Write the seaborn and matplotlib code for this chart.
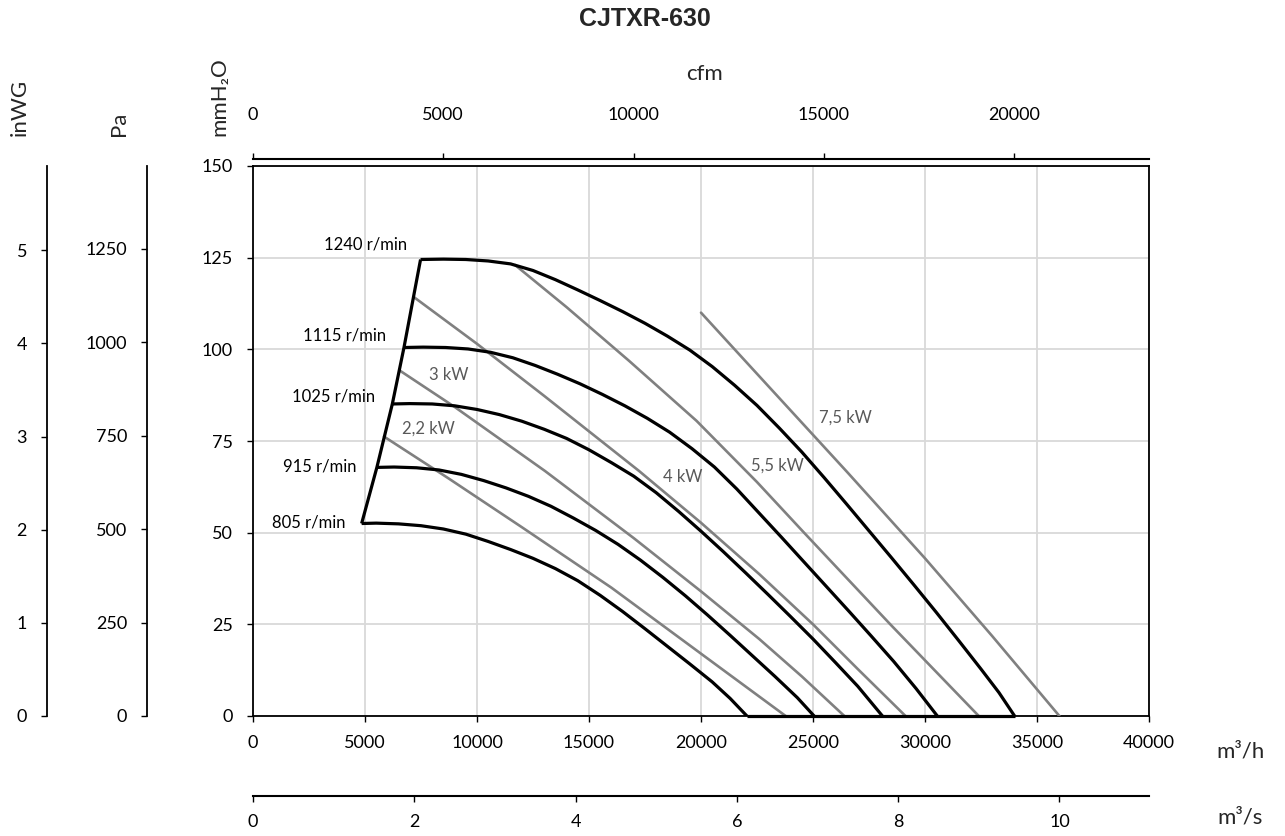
import matplotlib
matplotlib.use("Agg")
import matplotlib.pyplot as plt
import numpy as np
import pandas as pd
import seaborn as sns

# ---------------- data ----------------
speed_labels = ["1240 r/min", "1115 r/min", "1025 r/min", "915 r/min", "805 r/min"]

q_1240 = [7480, 8500, 9500, 10500, 11500, 12500, 13500, 14500, 15500, 16500, 17500, 18500, 19500,
          20500, 21500, 22500, 23500, 24500, 25500, 26500, 27500, 28500, 29500, 30500, 31500,
          32500, 33300, 34000]
p_1240 = [124.5, 124.6, 124.5, 124.1, 123.3, 121.5, 119.0, 116.2, 113.3, 110.3, 107.1, 103.6, 99.8,
          95.3, 90.2, 84.7, 78.5, 72.0, 65.0, 57.8, 50.5, 43.2, 35.8, 28.3, 20.6,
          12.8, 6.4, 0.0]

q_1115 = [6740, 7600, 8600, 9600, 10600, 11600, 12600, 13600, 14600, 15600, 16600, 17600, 18600,
          19600, 20600, 21600, 22600, 23600, 24600, 25600, 26600, 27600, 28600, 29600, 30550]
p_1115 = [100.5, 100.6, 100.5, 100.1, 99.2, 97.7, 95.6, 93.2, 90.6, 87.7, 84.6, 81.2, 77.4,
          72.9, 67.9, 61.9, 55.3, 48.7, 42.0, 35.3, 28.6, 21.8, 14.9, 7.5, 0.0]

q_1025 = [6220, 7000, 8000, 9000, 10000, 11000, 12000, 13000, 14000, 15000, 16000, 17000, 18000,
          19000, 20000, 21000, 22000, 23000, 24000, 25000, 26000, 27000, 28100]
p_1025 = [85.1, 85.2, 85.1, 84.6, 83.6, 82.2, 80.4, 78.2, 75.7, 72.6, 69.1, 65.4, 60.9,
          55.8, 50.4, 44.8, 39.0, 33.1, 27.1, 21.0, 14.6, 8.1, 0.0]

q_915 = [5530, 6300, 7300, 8300, 9300, 10300, 11300, 12300, 13300, 14300, 15300, 16300, 17300,
         18300, 19300, 20300, 21300, 22300, 23300, 24300, 25050]
p_915 = [67.8, 67.9, 67.7, 67.1, 65.9, 64.2, 62.2, 59.9, 57.2, 54.0, 50.6, 46.8, 42.5,
         37.8, 32.8, 27.5, 22.0, 16.4, 10.8, 5.0, 0.0]

q_805 = [4850, 5500, 6500, 7500, 8500, 9500, 10500, 11500, 12500, 13500, 14500, 15500, 16500,
         17500, 18500, 19500, 20500, 21300, 22050]
p_805 = [52.5, 52.6, 52.4, 51.9, 51.0, 49.6, 47.6, 45.4, 43.0, 40.2, 36.9, 32.9, 28.5,
         23.8, 19.0, 14.2, 9.3, 4.8, 0.0]

# left envelope joining the curve starts
q_env = [4850, 5530, 6220, 6740, 7480]
p_env = [52.5, 67.8, 85.1, 100.5, 124.5]

# bottom envelope along zero pressure
q_base = [22050, 34000]
p_base = [0.0, 0.0]

power_labels = ["2,2 kW", "3 kW", "4 kW", "5,5 kW", "7,5 kW"]
q_22 = [5850, 8730, 12000, 16000, 20000, 23780]
p_22 = [76.2, 64.8, 51.5, 35.0, 17.0, 0.0]
q_30 = [6530, 9000, 13040, 17000, 20000, 22600, 24500, 26400]
p_30 = [94.3, 84.3, 66.8, 48.5, 34.0, 21.0, 10.8, 0.0]
q_40 = [7170, 10000, 13000, 17240, 20000, 22600, 25000, 27000, 29130]
p_40 = [114.3, 101.5, 87.3, 66.8, 52.7, 38.7, 25.0, 12.8, 0.0]
q_55 = [11700, 14000, 16800, 19800, 22500, 24600, 28450, 32400]
p_55 = [123.0, 111.5, 96.8, 80.5, 63.8, 50.0, 25.0, 0.0]
q_75 = [20000, 23000, 26530, 30000, 33000, 36000]
p_75 = [110.0, 90.0, 66.5, 43.0, 21.8, 0.0]

# label anchor points (m3/h, mmH2O)
speed_label_q = [6867, 5960, 5443, 4611, 4139]
speed_label_p = [128.5, 103.7, 87.0, 68.0, 52.8]
power_label_q = [6658, 7846, 18310, 22235, 25280]
power_label_p = [78.5, 92.9, 65.2, 68.2, 81.3]

x_ticks = [0, 5000, 10000, 15000, 20000, 25000, 30000, 35000, 40000]
y_ticks = [0, 25, 50, 75, 100, 125, 150]
pa_ticks = [0, 250, 500, 750, 1000, 1250]
inwg_ticks = [0, 1, 2, 3, 4, 5]
cfm_ticks = [0, 5000, 10000, 15000, 20000]
m3s_ticks = [0, 2, 4, 6, 8, 10]

# ---------------- styling ----------------
sns.set_theme(style="white")
plt.rcParams["font.family"] = ["Lato", "DejaVu Sans"]

W, H = 1285, 836
fig = plt.figure(figsize=(W / 100, H / 100), dpi=100)
L, R, T, B = 253, 1149, 166, 716
rect = [L / W, (H - B) / H, (R - L) / W, (B - T) / H]
PX = 0.72  # points per pixel

ax = fig.add_axes(rect)
ax.set_xlim(0, 40000)
ax.set_ylim(0, 150)
ax.set_xticks(x_ticks)
ax.set_yticks(y_ticks)
ax.grid(True, color="#d9d9d9", lw=1.3)
ax.set_axisbelow(True)
for s in ax.spines.values():
    s.set_color("black")
    s.set_linewidth(1.3)
ax.tick_params(axis="both", direction="out", length=6 * PX, width=1, colors="black",
               labelsize=13, left=True, bottom=True)
ax.tick_params(axis="y", pad=14 * PX)
ax.tick_params(axis="x", pad=13 * PX)

black_lw = 2.3
gray_lw = 1.9
gray = "#808080"

curves = [(q_1240, p_1240), (q_1115, p_1115), (q_1025, p_1025), (q_915, p_915), (q_805, p_805)]
for q, p in curves:
    df = pd.DataFrame({"q": q, "p": p})
    sns.lineplot(data=df, x="q", y="p", ax=ax, color="black", lw=black_lw,
                 estimator=None, sort=False, zorder=4)

sns.lineplot(data=pd.DataFrame({"q": q_env, "p": p_env}), x="q", y="p", ax=ax,
             color="black", lw=black_lw, estimator=None, sort=False, zorder=4)
sns.lineplot(data=pd.DataFrame({"q": q_base, "p": p_base}), x="q", y="p", ax=ax,
             color="black", lw=black_lw, estimator=None, sort=False, zorder=5)
for ln in ax.lines:
    ln.set_solid_capstyle("butt")
    ln.set_solid_joinstyle("round")
ax.lines[-1].set_clip_on(False)

powers = [(q_22, p_22), (q_30, p_30), (q_40, p_40), (q_55, p_55), (q_75, p_75)]
for q, p in powers:
    sns.lineplot(data=pd.DataFrame({"q": q, "p": p}), x="q", y="p", ax=ax,
                 color=gray, lw=gray_lw, estimator=None, sort=False, zorder=3)
ax.set_xlabel("")
ax.set_ylabel("")

for lab, x, y in zip(speed_labels, speed_label_q, speed_label_p):
    ax.text(x, y, lab, ha="right", va="center", fontsize=12, color="black", zorder=6)
for lab, x, y in zip(power_labels, power_label_q, power_label_p):
    ax.text(x, y, lab, ha="left", va="center", fontsize=12, color="#595959", zorder=6)


def blank_axes():
    a = fig.add_axes(rect)
    a.patch.set_visible(False)
    for s in a.spines.values():
        s.set_visible(False)
    a.grid(False)
    return a


# Pa axis
ax_pa = blank_axes()
ax_pa.set_ylim(0, 150 * 9.80665)
ax_pa.set_yticks(pa_ticks)
ax_pa.set_xticks([])
ax_pa.spines["left"].set_visible(True)
ax_pa.spines["left"].set_position(("outward", 106 * PX))
ax_pa.spines["left"].set_color("black")
ax_pa.spines["left"].set_linewidth(1.3)
ax_pa.tick_params(axis="y", direction="out", length=6 * PX, width=1, colors="black",
                  labelsize=13, pad=14 * PX, left=True)

# inWG axis
ax_in = blank_axes()
ax_in.set_ylim(0, 150 * 9.80665 / 249.089)
ax_in.set_yticks(inwg_ticks)
ax_in.set_xticks([])
ax_in.spines["left"].set_visible(True)
ax_in.spines["left"].set_position(("outward", 206 * PX))
ax_in.spines["left"].set_color("black")
ax_in.spines["left"].set_linewidth(1.3)
ax_in.tick_params(axis="y", direction="out", length=6 * PX, width=1, colors="black",
                  labelsize=13, pad=14 * PX, left=True)

# cfm axis (top)
ax_cfm = blank_axes()
ax_cfm.set_xlim(0, 40000 / 1.69901)
ax_cfm.set_xticks(cfm_ticks)
ax_cfm.set_yticks([])
ax_cfm.xaxis.set_ticks_position("top")
ax_cfm.spines["top"].set_visible(True)
ax_cfm.spines["top"].set_position(("outward", 7 * PX))
ax_cfm.spines["top"].set_color("black")
ax_cfm.spines["top"].set_linewidth(1.5)
ax_cfm.tick_params(axis="x", direction="out", length=6 * PX, width=1, colors="black",
                   labelsize=13, pad=30 * PX, top=True, bottom=False,
                   labeltop=True, labelbottom=False)

# m3/s axis (bottom)
ax_s = blank_axes()
ax_s.set_xlim(0, 40000 / 3600)
ax_s.set_xticks(m3s_ticks)
ax_s.set_yticks([])
ax_s.spines["bottom"].set_visible(True)
ax_s.spines["bottom"].set_position(("outward", 80 * PX))
ax_s.spines["bottom"].set_color("black")
ax_s.spines["bottom"].set_linewidth(1.5)
ax_s.tick_params(axis="x", direction="out", length=6 * PX, width=1, colors="black",
                 labelsize=13, pad=12 * PX, bottom=True)

# titles
fig.text(645 / W, 1 - 19 / H, "CJTXR-630", ha="center", va="center", fontsize=18,
         fontweight="bold", family=["Liberation Sans", "DejaVu Sans"])
fig.text(704 / W, 1 - 74 / H, "cfm", ha="center", va="center", fontsize=16)
fig.text(1240 / W, 1 - 752 / H, "m³/h", ha="center", va="center", fontsize=16)
fig.text(1240 / W, 1 - 818 / H, "m³/s", ha="center", va="center", fontsize=16)
fig.text(20 / W, 1 - 136 / H, "inWG", rotation=90, ha="center", va="bottom", fontsize=16)
fig.text(119 / W, 1 - 136 / H, "Pa", rotation=90, ha="center", va="bottom", fontsize=16)
fig.text(219 / W, 1 - 136 / H, "mmH₂O", rotation=90, ha="center", va="bottom", fontsize=16)

fig.savefig("out.png", dpi=100)
